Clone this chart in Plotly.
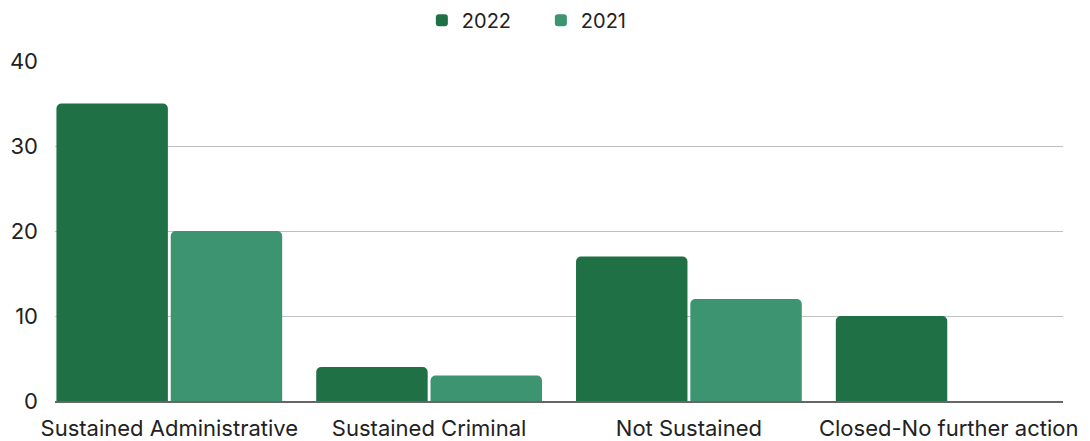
import plotly.graph_objects as go

categories = ["Sustained Administrative", "Sustained Criminal", "Not Sustained", "Closed-No further action"]
values_2022 = [35, 4, 17, 10]
values_2021 = [20, 3, 12, 0]
y_ticks = [0, 10, 20, 30, 40]

FONT = "Inter"

fig = go.Figure()
fig.add_trace(go.Bar(name="2022", x=categories, y=values_2022, marker=dict(color="#1f7145", line=dict(width=0))))
fig.add_trace(go.Bar(name="2021", x=categories, y=values_2021, marker=dict(color="#3d9470", line=dict(width=0))))

# page has an 8px body margin, so the figure is sized/offset to compensate
fig.update_layout(
    width=1082, height=433,
    margin=dict(l=47, r=27, t=53, b=40, autoexpand=False),
    paper_bgcolor="white", plot_bgcolor="white",
    barmode="group", bargap=0.12, bargroupgap=0.025,
    barcornerradius=5,
    font=dict(family=FONT, color="#222222", size=22),
    legend=dict(orientation="h", x=0.482, xanchor="center", y=1.12, yref="paper", yanchor="middle",
                font=dict(size=20, family=FONT, color="#222222"),
                entrywidth=74, entrywidthmode="pixels", traceorder="normal"),
    showlegend=True,
)
fig.update_xaxes(type="category", range=[-0.44, 3.44], showgrid=False, automargin=False,
                 showline=True, linecolor="#666666", linewidth=2, ticklabelstandoff=7,
                 ticks="", tickfont=dict(size=22, family=FONT, color="#222222"))
fig.update_yaxes(range=[0, 40], tickvals=y_ticks, showgrid=True, gridcolor="#c0c0c0", gridwidth=1,
                 zeroline=False, showline=False, ticks="", ticklabelstandoff=16, automargin=False,
                 tickfont=dict(size=22, family=FONT, color="#222222"))

fig.write_html("out.html")
